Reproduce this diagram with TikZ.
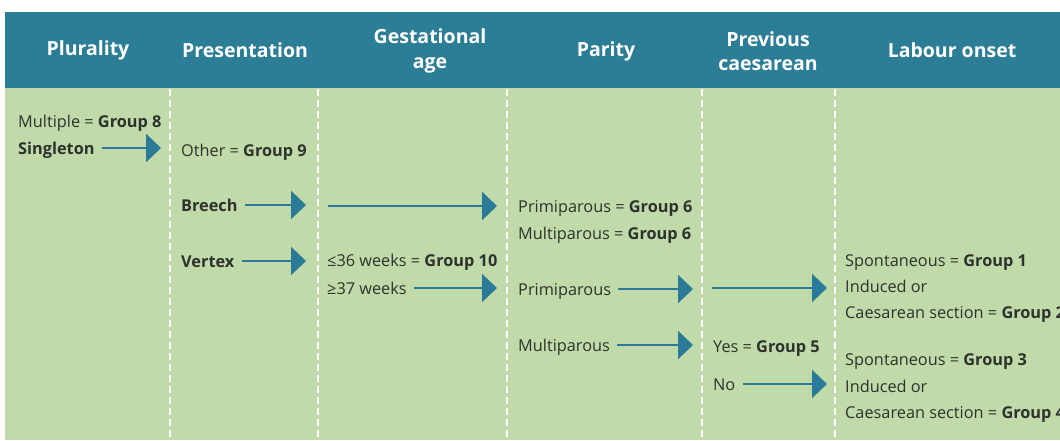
\documentclass[tikz,border=0pt]{standalone}
\usepackage{fontspec}
\setmainfont{Open Sans}
\usetikzlibrary{arrows.meta}
\definecolor{headteal}{RGB}{44,125,150}
\definecolor{bodygreen}{RGB}{192,218,170}
\definecolor{arrteal}{RGB}{42,122,152}
\definecolor{txt}{RGB}{45,50,45}
\tikzset{
  hdr/.style={text=white, font=\fontsize{19.5}{24.5}\selectfont\bfseries, align=center, inner sep=0pt},
  lbl/.style={anchor=west, inner sep=0pt, text height=12pt, text depth=0pt, text=txt, font=\fontsize{16.3}{19}\selectfont},
  flow/.style={draw=arrteal, line width=2.6pt, -{Triangle[length=15pt,width=28pt]}},
  divider/.style={draw=white, line width=1.2pt, dash pattern=on 7pt off 4pt}
}
\begin{document}
\begin{tikzpicture}[x=1pt,y=-1pt]
\clip (0,0) rectangle (1060,440);
\fill[white] (0,0) rectangle (1060,440);
% bands
\fill[headteal] (5,12) rectangle (1060,88);
\fill[bodygreen] (5,88) rectangle (1060,440);
% dividers
\foreach \xx in {170,318,507,702,835}
  \draw[divider] (\xx,89) -- (\xx,440);
% headers
\node[hdr] (h1) at (88,50) {Plurality};
\node[hdr] (h2) at (245,50) {Presentation};
\node[hdr] (h3) at (430,51) {Gestational\\age};
\node[hdr] (h4) at (606,51) {Parity};
\node[hdr] (h5) at (768,51) {Previous\\caesarean};
\node[hdr] (h6) at (952,50) {Labour onset};
% column 1
\node[lbl] (mult8) at (18,121) {Multiple = \textbf{Group 8}};
\node[lbl] (single) at (18,148) {\textbf{Singleton}};
% column 2
\node[lbl] (other) at (181,150) {Other = \textbf{Group 9}};
\node[lbl] (breech) at (181,205) {\textbf{Breech}};
\node[lbl] (vertex) at (181,261) {\textbf{Vertex}};
% column 3
\node[lbl] (w36) at (327,260) {≤36 weeks = \textbf{Group 10}};
\node[lbl] (w37) at (327,288) {≥37 weeks};
% column 4
\node[lbl] (prim6) at (518,206) {Primiparous = \textbf{Group 6}};
\node[lbl] (mult6) at (518,233) {Multiparous = \textbf{Group 6}};
\node[lbl] (prim) at (518,289) {Primiparous};
\node[lbl] (multi) at (518,345) {Multiparous};
% column 5
\node[lbl] (yes) at (713,346) {Yes = \textbf{Group 5}};
\node[lbl] (no) at (713,384) {No};
% column 6
\node[lbl] (sp1) at (845,260) {Spontaneous = \textbf{Group 1}};
\node[lbl] (ind1) at (845,286) {Induced or};
\node[lbl] (cs2) at (845,312) {Caesarean section = \textbf{Group 2}};
\node[lbl] (sp3) at (845,359) {Spontaneous = \textbf{Group 3}};
\node[lbl] (ind2) at (845,386) {Induced or};
\node[lbl] (cs4) at (845,412) {Caesarean section = \textbf{Group 4}};
% arrow coordinates
\coordinate (a1) at (161,148);
\coordinate (a2) at (306,205);
\coordinate (a3s) at (328,206);
\coordinate (a3) at (497,206);
\coordinate (a4) at (306,261);
\coordinate (a5) at (497,288);
\coordinate (a6) at (693,289);
\coordinate (a7s) at (712,288);
\coordinate (a7) at (827,288);
\coordinate (a8) at (693,345);
\coordinate (a9) at (827,384);
% arrows
\draw[flow] (single.east) ++(7,0) -- (a1);
\draw[flow] (breech.east) ++(7,0) -- (a2);
\draw[flow] (a3s) -- (a3);
\draw[flow] (vertex.east) ++(7,0) -- (a4);
\draw[flow] (w37.east) ++(7,0) -- (a5);
\draw[flow] (prim.east) ++(7,0) -- (a6);
\draw[flow] (a7s) -- (a7);
\draw[flow] (multi.east) ++(7,0) -- (a8);
\draw[flow] (no.east) ++(7,0) -- (a9);
\end{tikzpicture}
\end{document}
